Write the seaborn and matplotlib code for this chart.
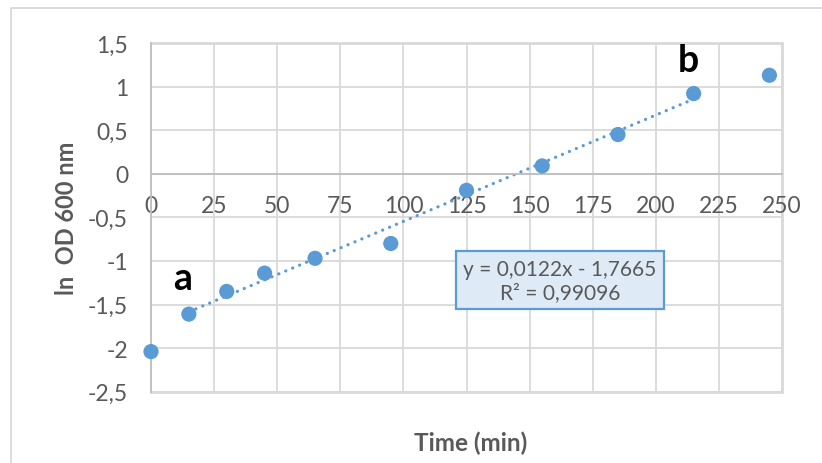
import matplotlib
matplotlib.use("Agg")
import matplotlib.pyplot as plt
import seaborn as sns
import numpy as np
import pandas as pd
from matplotlib.patches import Rectangle

# ---- data ----
time_min = [0, 15, 30, 45, 65, 95, 125, 155, 185, 215, 245]
ln_od600 = [-2.04, -1.61, -1.35, -1.14, -0.97, -0.80, -0.19, 0.09, 0.45, 0.92, 1.13]
trend_slope = 0.0122
trend_intercept = -1.7665
trend_range = [15, 215]
x_ticks = [0, 25, 50, 75, 100, 125, 150, 175, 200, 225, 250]
y_ticks = [1.5, 1, 0.5, 0, -0.5, -1, -1.5, -2, -2.5]
y_tick_labels = ["1,5", "1", "0,5", "0", "-0,5", "-1", "-1,5", "-2", "-2,5"]
equation_text = "y = 0,0122x - 1,7665\nR\u00b2 = 0,99096"

sns.set_style("white")
plt.rcParams['font.family'] = ['Lato', 'DejaVu Sans']

BLUE = "#5b9bd5"
GRAY_TXT = "#595959"
GRID = "#d9d9d9"

df = pd.DataFrame({"time": time_min, "lnod": ln_od600})
tx = np.array(trend_range, dtype=float)
trend_df = pd.DataFrame({"time": tx, "lnod": trend_slope * tx + trend_intercept})

fig = plt.figure(figsize=(8.22, 4.64), dpi=100)
ax = fig.add_axes([151/822, 1 - 392.7/464, 631/822, 348.7/464])

# outer chart border
fig.patches.append(Rectangle((11/822, -0.05), 1.0, 1 - 9/464 + 0.05, transform=fig.transFigure,
                             fill=False, edgecolor="#d9d9d9", linewidth=1.3, zorder=0))

ax.set_xlim(0, 250)
ax.set_ylim(-2.5, 1.5)
ax.set_xticks(x_ticks)
ax.set_xticklabels([str(t) for t in x_ticks])
ax.set_yticks(y_ticks)
ax.set_yticklabels(y_tick_labels)
ax.grid(True, color=GRID, linewidth=1.3)
ax.set_axisbelow(True)

for s in ["top", "right"]:
    ax.spines[s].set_visible(False)
ax.spines["bottom"].set_position(("data", 0))
ax.spines["bottom"].set_color("#bfbfbf")
ax.spines["bottom"].set_linewidth(1.3)
ax.spines["left"].set_color("#bfbfbf")
ax.spines["left"].set_linewidth(1.3)
ax.axhline(-2.5, color=GRID, linewidth=2.0, zorder=0.5, clip_on=False)
ax.axhline(1.5, color=GRID, linewidth=2.0, zorder=0.5, clip_on=False)
ax.axvline(250, color=GRID, linewidth=2.0, zorder=0.5, clip_on=False)

ax.tick_params(axis="both", length=0, labelsize=16.5, labelcolor=GRAY_TXT)
ax.tick_params(axis="x", pad=15)
ax.tick_params(axis="y", pad=16.5)

sns.lineplot(data=trend_df, x="time", y="lnod", ax=ax, color=BLUE, linewidth=2.3,
             linestyle=(0, (0.05, 2.3)), dash_capstyle="round", zorder=2)
sns.scatterplot(data=df, x="time", y="lnod", ax=ax, color=BLUE, s=120,
                edgecolor="none", zorder=3, clip_on=False)

ax.set_xlabel("")
ax.set_ylabel("")
fig.text(471/822, 1 - 443/464, "Time (min)", ha="center", va="center",
         fontsize=17.5, fontweight="bold", color=GRAY_TXT)
fig.text(66/822, 1 - 218/464, "ln  OD 600 nm", ha="center", va="center", rotation=90,
         fontsize=17, fontweight="bold", color=GRAY_TXT)

ax.text(12.7, -1.19, "a", fontsize=27, fontweight="bold", color="black", ha="center", va="center")
ax.text(213, 1.30, "b", fontsize=27, fontweight="bold", color="black", ha="center", va="center")

ax.text(162, -1.22, equation_text, ha="center", va="center", fontsize=15, color=GRAY_TXT,
        linespacing=1.2,
        bbox=dict(boxstyle="square,pad=0.35", facecolor="#deebf7", edgecolor=BLUE, linewidth=1.6),
        zorder=4)

fig.savefig("out.png", dpi=100)
